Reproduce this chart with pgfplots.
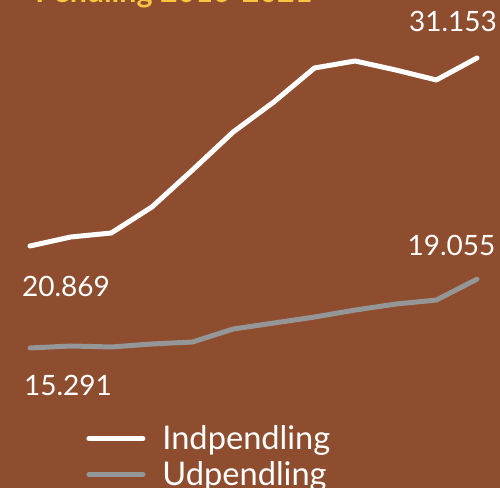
\documentclass[border=0pt]{standalone}
\usepackage{fontspec}
\setmainfont{Lato}
\usepackage{pgfplots}
\pgfplotsset{compat=1.18}
\definecolor{bg}{RGB}{142,77,46}
\definecolor{ttl}{RGB}{250,196,62}
\definecolor{ud}{RGB}{148,150,152}
\begin{document}
\begin{tikzpicture}
\begin{axis}[
  scale only axis, width=250pt, height=244pt,
  xmin=2009.262, xmax=2021.566, ymin=7632, ymax=34325,
  axis lines=none, ticks=none,
  axis background/.style={fill=bg},
  clip=false,
  legend style={at={(rel axis cs:0.16,0.146)}, anchor=north west, draw=none, fill=none,
    text=white, font=\fontsize{16.3}{19}\selectfont, row sep=0.5pt,
    /tikz/column 1/.style={column sep=6.5pt},
    legend cell align=left},
  legend image code/.code={\draw[#1, line cap=round] (0cm,0cm) -- (27pt,0cm);},
]
\addplot[white, line width=2.5pt, line join=round, line cap=round] coordinates {
(2010,20869) (2011,21361) (2012,21580) (2013,23002) (2014,25026) (2015,27105)
(2016,28746) (2017,30606) (2018,30989) (2019,30496) (2020,29950) (2021,31153)};
\addlegendentry{Indpendling}
\addplot[ud, line width=2.5pt, line join=round, line cap=round] coordinates {
(2010,15291) (2011,15400) (2012,15346) (2013,15509) (2014,15619) (2015,16328)
(2016,16656) (2017,16984) (2018,17366) (2019,17694) (2020,17913) (2021,19055)};
\addlegendentry{Udpendling}
\node[overlay, white, font=\fontsize{14}{16}\selectfont] at (rel axis cs:0.132,0.412) {20.869};
\node[overlay, white, font=\fontsize{14}{16}\selectfont] at (rel axis cs:0.136,0.211) {15.291};
\node[overlay, white, font=\fontsize{14}{16}\selectfont] at (rel axis cs:0.906,0.955) {31.153};
\node[overlay, white, font=\fontsize{14}{16}\selectfont] at (rel axis cs:0.903,0.498) {19.055};
\node[overlay, ttl, anchor=base west, inner sep=0pt, font=\bfseries\fontsize{15.2}{18}\selectfont] at (rel axis cs:0.07,0.994) {Pendling 2010-2021};
\end{axis}
\end{tikzpicture}
\end{document}
